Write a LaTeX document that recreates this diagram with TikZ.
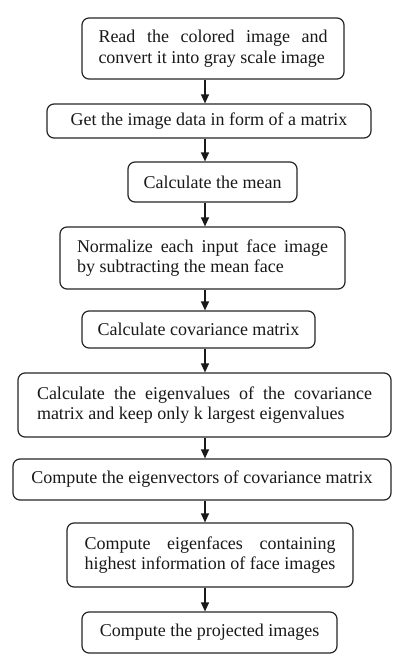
\documentclass[tikz,border=0pt]{standalone}
\usepackage{fontspec}
\setmainfont{Liberation Serif}
\usetikzlibrary{arrows.meta}
\newlength\wa
\newlength\wb
\newcommand\twolines[3]{%
  \wa=#1\relax
  \settowidth\wb{#2}\ifdim\wb>\wa \wa=\wb\fi
  \settowidth\wb{#3}\ifdim\wb>\wa \wa=\wb\fi
  \vbox{\baselineskip=20.5pt\hbox to \wa{#2}\hbox to \wa{#3\hfil}}}
\begin{document}
\begin{tikzpicture}[x=1pt,y=-1pt,
  box/.style={draw=black!85, line width=1.2pt, rounded corners=7pt, fill=white,
    inner sep=0pt, text=black!90, font=\fontsize{18}{20.5}\selectfont},
  flow/.style={draw=black!90, line width=1.2pt, -{Triangle[width=8pt,length=9pt]}}]
\useasboundingbox[fill=white] (0,0) rectangle (408,670);
\node[box, minimum width=262pt, minimum height=61pt] (b1) at (213,48.5)
  {\twolines{229pt}{Read the colored image and}{convert it into gray scale image}};
\node[box, minimum width=324pt, minimum height=34pt] (b2) at (209,121)
  {Get the image data in form of a matrix};
\node[box, minimum width=169pt, minimum height=40pt] (b3) at (212.5,182)
  {Calculate the mean};
\node[box, minimum width=285pt, minimum height=62pt] (b4) at (202.5,258)
  {\twolines{251pt}{Normalize each input face image}{by subtracting the mean face}};
\node[box, minimum width=233pt, minimum height=37pt] (b5) at (198.5,329.5)
  {Calculate covariance matrix};
\node[box, minimum width=373pt, minimum height=64pt] (b6) at (204.5,405)
  {\twolines{335pt}{Calculate the eigenvalues of the covariance}{matrix and keep only k largest eigenvalues}};
\node[box, minimum width=378pt, minimum height=41pt] (b7) at (202,479.5)
  {Compute the eigenvectors of covariance matrix};
\node[box, minimum width=286pt, minimum height=64pt] (b8) at (210,555)
  {\twolines{251pt}{Compute eigenfaces containing}{highest information of face images}};
\node[box, minimum width=255pt, minimum height=41pt] (b9) at (209.5,632.5)
  {Compute the projected images};
\coordinate (ax) at (205,0);
\foreach \a/\b in {b1/b2,b2/b3,b3/b4,b4/b5,b5/b6,b6/b7,b7/b8,b8/b9}
  \draw[flow] (\a.south -| ax) -- (\b.north -| ax);
\end{tikzpicture}
\end{document}
